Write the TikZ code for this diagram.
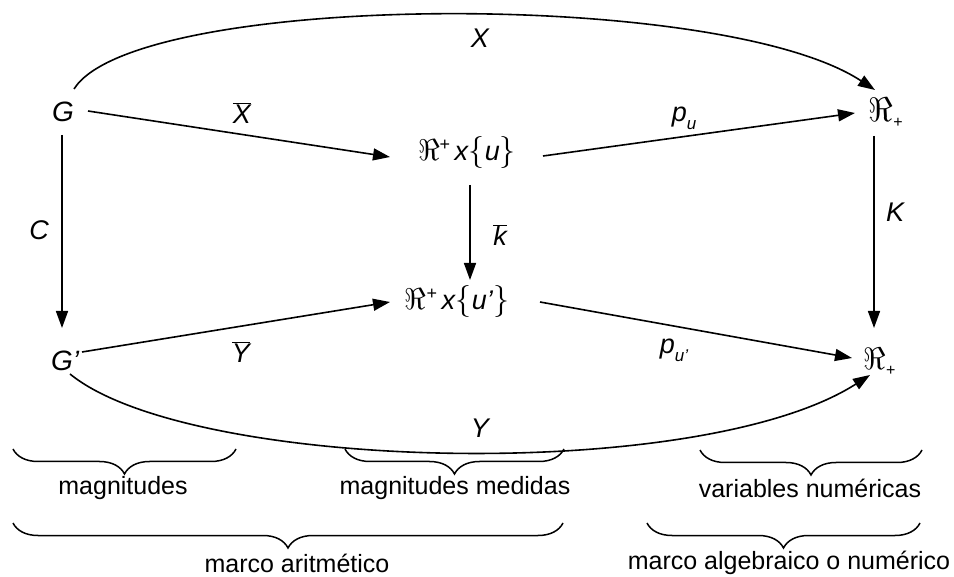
\documentclass[tikz,border=0pt]{standalone}
\usepackage{fix-cm}
\usepackage{fontspec}
\setmainfont{Liberation Sans}
\usetikzlibrary{arrows.meta,decorations.pathreplacing}
\newcommand{\bigRe}[1]{{\fontsize{#1}{#1}\selectfont$\Re$}}
\newcommand{\supplus}{\raisebox{10pt}{\fontsize{18}{18}\selectfont +}}
\newcommand{\subplus}{\rlap{\raisebox{-6pt}{\fontsize{16}{16}\selectfont +}}}
\newcommand{\cbr}[1]{{\fontsize{32}{32}\selectfont$#1$}}
\begin{document}
\begin{tikzpicture}[x=1pt,y=-1pt,
  arr/.style={line width=1.6pt,-{Triangle[length=17pt,width=12pt]}},
  nd/.style={inner sep=0pt},
  big/.style={font=\fontsize{28}{30}\selectfont\itshape},
  set/.style={font=\fontsize{27}{29}\selectfont},
  lbl/.style={inner sep=0pt,font=\fontsize{27}{30}\selectfont\itshape},
  txt/.style={inner sep=0pt,font=\fontsize{25}{28}\selectfont},
  brc/.style={line width=1.5pt,decorate,decoration={brace,mirror,amplitude=25pt}}
]
\useasboundingbox (0,0) rectangle (954,577);
% nodes
\node[nd,big] (G) at (63,112) {G};
\node[nd,big] (Gp) at (62,361) {G\rlap{'}};
\node[nd,set] (A) at (467,153) {\bigRe{30}\supplus\,\textit{x}\cbr{\{}\textit{u}\cbr{\}}};
\node[nd,set] (B) at (457,302) {\bigRe{30}\supplus\,\textit{x}\cbr{\{}\textit{u'}\cbr{\}}};
\node[nd] (R1) at (881,113) {\bigRe{34}\subplus};
\node[nd] (R2) at (875,362) {\bigRe{31}\subplus};
% straight arrows
\draw[arr] ([shift={(25,-1)}]G.center) -- ([shift={(-77,4)}]A.center);
\draw[arr] ([shift={(76,3)}]A.center) -- ([shift={(-26,0)}]R1.center);
\draw[arr] ([shift={(3,32)}]A.center) -- ([shift={(13,-22)}]B.center);
\draw[arr] ([shift={(20,-9)}]Gp.center) -- ([shift={(-67,0)}]B.center);
\draw[arr] ([shift={(83,0)}]B.center) -- ([shift={(-23,-4)}]R2.center);
\draw[arr] ([shift={(-1,23)}]G.center) -- ([shift={(0,-33)}]Gp.center);
\draw[arr] ([shift={(-7,23)}]R1.center) -- ([shift={(-1,-34)}]R2.center);
% curved arrows
\draw[arr] ([shift={(11,-23)}]G.center) .. controls (135,-8) and (720,-12) .. ([shift={(-6,-23)}]R1.center);
\draw[arr] ([shift={(8,13)}]Gp.center) .. controls (190,472) and (700,484) .. ([shift={(-5,13)}]R2.center);
% labels
\node[lbl] (lX) at (480,38) {X};
\node[lbl] (lXb) at (242,113) {$\overline{\mbox{\itshape X}}$};
\node[lbl] (lC) at (39,230) {C};
\node[lbl] (lkb) at (500,235) {$\overline{\mbox{\itshape k}}$};
\node[lbl] (lK) at (895,212) {K};
\node[lbl] (lpu) at (684,118) {p\raisebox{-0.3em}{\fontsize{17}{18}\selectfont u}};
\node[lbl] (lYb) at (241,352) {$\overline{\mbox{\itshape Y}}$};
\node[lbl] (lpup) at (674,350) {p\raisebox{-0.3em}{\fontsize{17}{18}\selectfont u'}};
\node[lbl] (lY) at (480,428) {Y};
% braces
\draw[brc] (13,449) -- (236,449);
\draw[brc] (345,449) -- (564,449);
\draw[brc] (700,450) -- (922,450);
\draw[brc] (13,523) -- (563,523);
\draw[brc] (647,523) -- (920,523);
\node[txt] (t1) at (123,488) {magnitudes};
\node[txt] (t2) at (455,488) {magnitudes medidas};
\node[txt] (t3) at (810,488) {variables numéricas};
\node[txt] (t4) at (297,563) {marco aritmético};
\node[txt] (t5) at (789,563) {marco algebraico o numérico};
\end{tikzpicture}
\end{document}
